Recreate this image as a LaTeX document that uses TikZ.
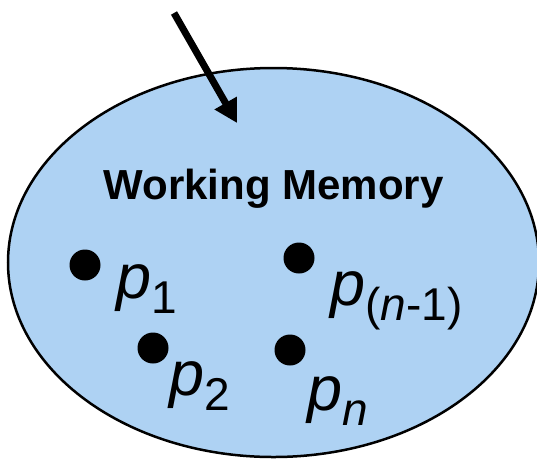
\documentclass[tikz,border=0pt]{standalone}
\usepackage{fontspec}
\setmainfont{Liberation Sans}
\usepackage{xcolor}
\usetikzlibrary{arrows.meta, positioning, shapes.geometric}

\definecolor{memblue}{RGB}{174,210,243}
\newcommand{\pname}[1]{\textit{p}\lower15pt\hbox{\fontsize{46}{46}\selectfont #1}}

\begin{document}
\begin{tikzpicture}[
    x=1pt, y=-1pt,
    memory/.style={ellipse, draw=black, line width=2.5pt, fill=memblue, inner sep=0pt, minimum width=531pt, minimum height=389pt},
    element/.style={circle, fill=black, inner sep=0pt, minimum size=31pt},
    plabel/.style={anchor=base west, inner sep=0pt, font=\fontsize{63}{63}\selectfont},
    title/.style={anchor=base, inner sep=0pt, font=\bfseries\fontsize{42}{42}\selectfont},
    arrow/.style={-{Triangle[length=23pt, width=24pt]}, line width=7pt}
]
\useasboundingbox (0,0) rectangle (537,461);

\node[memory] (wm) at (273.5,262.5) {};
\node[title] (wmtitle) at (273.5,199) {Working Memory};

% incoming arrow
\coordinate (src) at (174,13);
\coordinate (tip) at (237,123);
\draw[arrow] (src) -- (tip);

% elements in working memory
\node[element] (e1) at (85,265) {};
\node[element] (e2) at (153,348) {};
\node[element] (em) at (299,258) {};
\node[element] (en) at (290,350) {};

\node[plabel] (l1) at (116,298) {\pname{1}};
\node[plabel] (l2) at (169,395) {\pname{2}};
\node[plabel] (lm) at (330,305) {\pname{(\textit{n}-1)}};
\node[plabel] (ln) at (307,410) {\pname{\textit{n}}};
\end{tikzpicture}
\end{document}
